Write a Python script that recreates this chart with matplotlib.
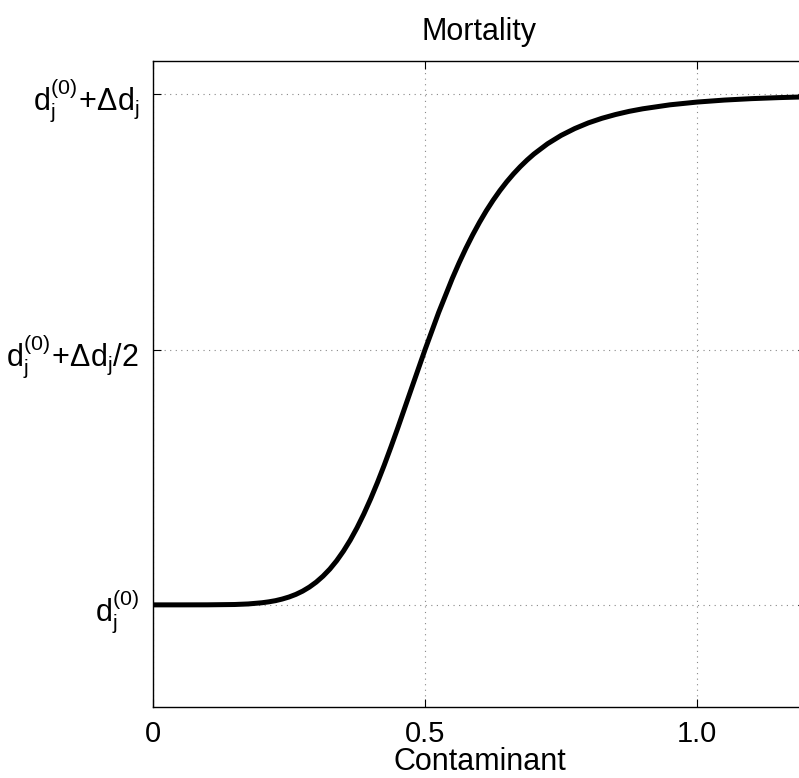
import matplotlib
matplotlib.use("Agg")
import matplotlib.pyplot as plt

plt.rcParams['font.family'] = ['Liberation Sans', 'DejaVu Sans']
plt.rcParams['mathtext.fontset'] = 'custom'
plt.rcParams['mathtext.rm'] = 'Liberation Sans'
plt.rcParams['mathtext.it'] = 'Liberation Sans'
plt.rcParams['mathtext.default'] = 'regular'

# Curve (y in units of delta d above d_j^(0))
contaminant = [0.0, 0.05, 0.10, 0.15, 0.175, 0.20, 0.2125, 0.225, 0.2375, 0.25,
               0.2625, 0.275, 0.2875, 0.30, 0.3125, 0.325, 0.3375, 0.35, 0.3625, 0.375,
               0.3875, 0.40, 0.4125, 0.425, 0.4375, 0.45, 0.475, 0.50, 0.525, 0.55,
               0.5625, 0.575, 0.5875, 0.60, 0.6125, 0.625, 0.6375, 0.65, 0.6625, 0.675,
               0.6875, 0.70, 0.725, 0.75, 0.775, 0.80, 0.825, 0.85, 0.875, 0.90,
               0.95, 1.00, 1.05, 1.10, 1.15, 1.20]
mortality = [0.0, 0.0, 0.0001, 0.0007, 0.0018, 0.0041, 0.0059, 0.0082, 0.0114, 0.0154,
             0.0205, 0.0269, 0.0349, 0.0446, 0.0563, 0.0701, 0.0864, 0.1053, 0.1268, 0.1511,
             0.1781, 0.2077, 0.2397, 0.2738, 0.3098, 0.3470, 0.4237, 0.5000, 0.5727, 0.6392,
             0.6697, 0.6982, 0.7246, 0.7491, 0.7717, 0.7923, 0.8112, 0.8284, 0.8440, 0.8582,
             0.8711, 0.8828, 0.9029, 0.9193, 0.9327, 0.9438, 0.9528, 0.9602, 0.9664, 0.9714,
             0.9792, 0.9846, 0.9885, 0.9913, 0.9933, 0.9948]

x_ticks = [0, 0.5, 1.0]
x_tick_labels = ['0', '0.5', '1.0']
y_ticks = [0, 0.5, 1.0]
y_tick_labels = [r'$d_j^{(0)}$', r'$d_j^{(0)}\!+\!\Delta d_j/2$', r'$d_j^{(0)}\!+\!\Delta d_j$']

fig = plt.figure(figsize=(7.99, 7.78), dpi=100)
ax = fig.add_axes([153/799, 71/778, 653/799, 646/778])

ax.plot(contaminant, mortality, color='black', linewidth=3.6,
        solid_capstyle='butt', solid_joinstyle='round')

ax.set_xlim(0, 1.2)
ax.set_ylim(-0.2, 1.065)
ax.set_xticks(x_ticks)
ax.set_xticklabels(x_tick_labels, fontsize=21)
ax.set_yticks(y_ticks)
ax.set_yticklabels(y_tick_labels, fontsize=22)
ax.tick_params(direction='in', length=6, width=0.8, top=True, right=True)
ax.tick_params(axis='x', pad=9)
ax.tick_params(axis='y', pad=10)
ax.grid(True, color='#888888', linestyle=(0, (1, 4)), linewidth=0.8)
for s in ax.spines.values():
    s.set_linewidth(1.0)

ax.set_xlabel('Contaminant', fontsize=22, labelpad=0)
ax.set_title('Mortality', fontsize=22, pad=15)

fig.savefig('out.png', dpi=100)
